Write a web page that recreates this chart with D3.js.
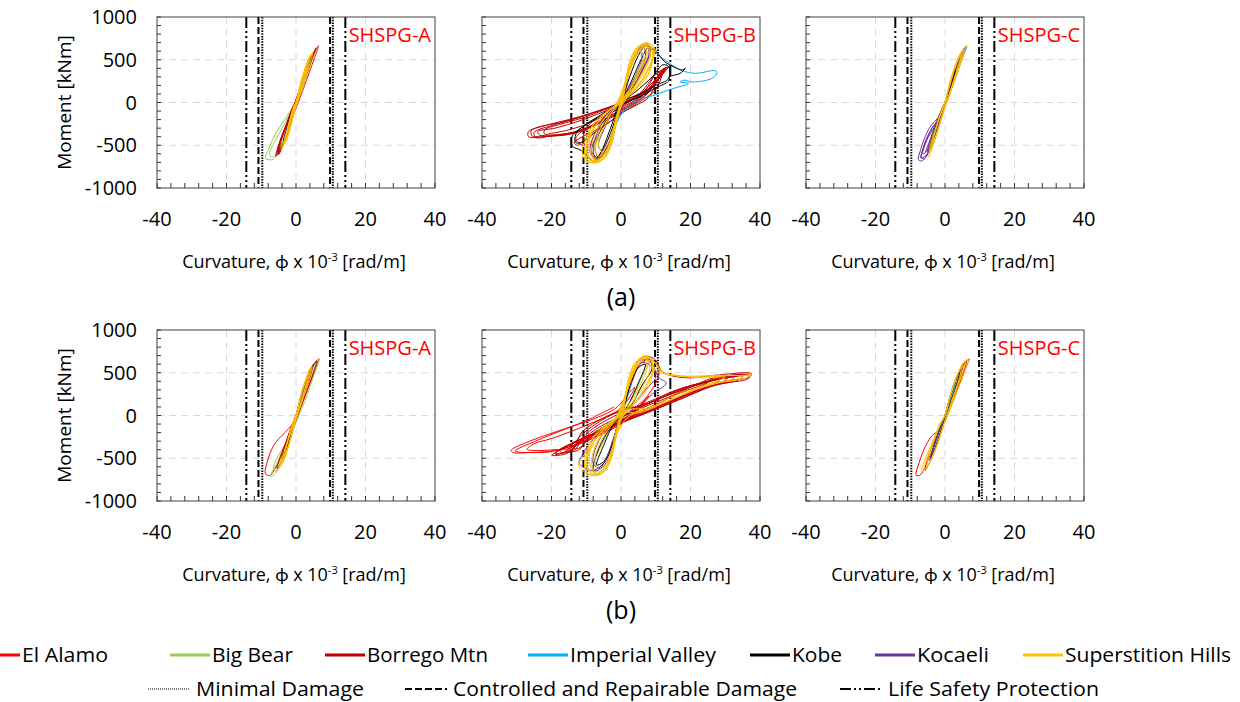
<!DOCTYPE html>
<html><head><meta charset="utf-8">
<script src="https://cdn.jsdelivr.net/npm/d3@7"></script>
<style>
html,body{margin:0;padding:0;background:#fff;}
text{font-family:"Open Sans",Lato,sans-serif;}
</style></head>
<body><svg id="chart" width="1240" height="702"></svg>
<script>
// ---------- categories / labels ----------
const seriesNames = ["El Alamo","Big Bear","Borrego Mtn","Imperial Valley","Kobe","Kocaeli","Superstition Hills"];
const seriesColors = ["#ff0000","#92d050","#c00000","#00b0f0","#000000","#7030a0","#ffc000"];
const panelNames = ["SHSPG-A","SHSPG-B","SHSPG-C"];
const rowLabels = ["(a)","(b)"];
const xTicks = [-40,-20,0,20,40];
const yTicks = [-1000,-500,0,500,1000];
const limitNames = ["Minimal Damage","Controlled and Repairable Damage","Life Safety Protection"];
const limitCurvatures = [[-9.7,10.6],[-10.8,9.8],[-14.3,14.2]];

// ---------- data: [curvature x1e-3 rad/m, moment kNm], series in seriesNames order ----------
// Row (a), SHSPG-A
const a_A = [
 [[0,0],[1.2,150],[2.8,330],[4.5,520],[6.5,665],[6,600],[4.6,440],[3,260],[1.2,60],[-0.8,-150],[-2.5,-330],[-4.2,-500],[-5.6,-610],[-4.5,-470],[-2.8,-280],[-1,-90],[0,0]],
 [[0,0],[1.5,180],[3,380],[4.5,540],[6.3,655],[5.2,560],[3.5,360],[2,170],[0,-40],[-1.2,-200],[-2.5,-340],[-4,-480],[-5.5,-600],[-6.5,-665],[-8.8,-655],[-8,-560],[-6.8,-440],[-5,-300],[-3.2,-200],[-1.5,-90],[0,0],[-1.8,-230],[-3.5,-400],[-5.2,-560],[-6.8,-640],[-7.6,-600],[-6,-450],[-4,-300],[-2,-150],[0,0]],
 [[0,0],[-1.5,-220],[-3,-400],[-4.5,-560],[-5.8,-630],[-5.2,-520],[-3.8,-380],[-2.2,-200],[-0.5,-20],[1.5,210],[3.2,420],[5,580],[5.8,640],[4.5,500],[2.8,300],[1,80],[-1,-180],[-2.8,-380],[-4.2,-540],[-5,-610],[-4.8,-480],[-3.2,-300],[-1.8,-170],[0,0],[-2,-300],[-3.6,-470],[-4.8,-590],[-4.2,-420],[-2.6,-250],[0,0],[-2.4,-360],[-4,-520],[-5.4,-600],[-4.6,-460],[-3,-280],[-1,-60],[0,0]],
 [[0,0],[1.5,200],[3,380],[4,470],[3.2,360],[1.6,170],[0,-20],[-1.5,-220],[-3,-390],[-2.2,-260],[-0.8,-90],[0,0]],
 [[0,0],[1.8,250],[3.4,430],[4.5,540],[3.8,430],[2.6,290],[1,100],[-1,-150],[-2.6,-330],[-3.6,-450],[-2.8,-320],[-1.2,-130],[0,0]],
 [[0,0],[1.5,190],[3,370],[4,480],[3,330],[1.2,120],[-1,-130],[-2.5,-320],[-3.5,-430],[-2.4,-270],[-1,-100],[0,0]],
 [[0,0],[1.2,180],[2.5,360],[3.8,520],[4.8,590],[4.2,480],[3,320],[1.6,140],[0.2,-20],[-1.2,-220],[-2.5,-400],[-3.8,-520],[-4.2,-560],[-3.2,-420],[-2,-250],[-0.8,-80],[0,0],[1.6,260],[3,450],[4.2,560],[3.5,420],[2.2,240],[0.8,60],[-0.8,-160],[-2.2,-360],[-3.4,-480],[-2.6,-340],[-1.4,-170],[0,0],[1,130],[2.2,300],[3.2,420],[2.6,300],[1.3,130],[-0.4,-60],[-1.8,-260],[-3,-420],[-2,-240],[-0.6,-40],[0,0],[1.4,240],[2.8,420],[3.8,520],[3,380],[1.8,200],[0.3,20],[-1.5,-280],[-2.8,-450],[-3.6,-500],[-2.4,-300],[-1,-120],[0,0]]
];
// Row (a), SHSPG-B
const a_B = [
 [[0,0],[1.8,300],[3.5,520],[5.5,650],[7.5,660],[8.5,560],[6.5,400],[4,220],[1.5,60],[-1,-150],[-3,-420],[-5.5,-620],[-7.5,-660],[-9,-560],[-7,-320],[-4,-120],[-1.5,-30],[0,0],[2.5,380],[4.5,580],[6.5,640],[7,520],[4.5,300],[1.5,80],[-1.5,-230],[-4,-520],[-6.5,-640],[-7.5,-520],[-4.5,-220],[-1,-20],[0,0]],
 [[0,0],[2,330],[4,580],[6.5,690],[8,650],[6,450],[3,180],[0,0],[-2,-320],[-4,-560],[-7,-680],[-8,-600],[-5,-300],[-2,-80],[0,0]],
 [[13.7,420],[12,330],[10,220],[8,60],[4,-40],[0,-120],[-5,-220],[-11,-330],[-16,-380],[-21,-395],[-26.6,-400],[-26.6,-340],[-22,-270],[-17.9,-240],[-11.2,-163],[-6,-90],[-1.6,-27],[3,60],[8,166],[11,290],[13.7,420],
  [12.5,390],[10.5,260],[7,80],[2,-60],[-4,-190],[-10,-310],[-15,-370],[-20,-390],[-24.5,-410],[-25,-350],[-20,-270],[-14,-200],[-8,-120],[-2,-40],[4,60],[9,180],[12.5,390],
  [11.5,360],[9,210],[5,40],[0,-80],[-6,-230],[-11,-330],[-13,-420],[-12,-480],[-10.5,-500],[-11,-420],[-9,-250],[-4,-120],[1,-10],[6,110],[11.5,360],
  [10,330],[7,150],[2,0],[-4,-150],[-9,-280],[-14,-350],[-18,-380],[-23,-390],[-24,-340],[-19,-300],[-13,-230],[-7,-140],[-1,-40],[5,90],[10,330],
  [13,410],[11,300],[8.5,150],[4,0],[-1,-110],[-7,-240],[-12,-330],[-17,-370],[-22,-385],[-25.5,-395],[-25.8,-330],[-21,-260],[-15,-200],[-9,-130],[-3,-50],[3,40],[8,140],[13,410],
  [12,380],[9.5,200],[5,50],[0,-60],[-6,-180],[-11,-270],[-16,-330],[-20,-360],[-22,-370],[-22,-320],[-17,-250],[-11,-180],[-5,-90],[1,0],[7,110],[12,380],
  [10,150],[5,0],[0,-130],[-4,-250],[-8,-340],[-12,-420],[-13.5,-470],[-12.5,-500],[-11,-450],[-8,-360],[-4,-250],[0,-130]],
 [[7.5,680],[9.9,590],[11.8,520],[14.7,438],[17.6,372],[21.4,341],[27.1,372],[27.6,349],[26.2,283],[20.5,240],[18.2,262],[17,240],[19.5,225],[13.7,147],[9.9,89],[5.1,31],[2.2,-47],[0.3,-124],[-1.6,-279],[-2.6,-473],[-4,-580],[-6,-640]],
 [[0,0],[3,250],[6,520],[8,650],[10,600],[12.5,480],[15,420],[17.6,380],[18.5,400],[17,340],[14,300],[13.7,250],[10,170],[5,60],[0,-30],[-5,-140],[-10,-260],[-14,-390],[-14,-510],[-11.5,-560],[-9,-650],[-8,-690],[-6,-600],[-3,-300],[0,0],
  [5,90],[10,200],[13.7,280],[13.7,420],[12,440],[9,300],[4,120],[0,10],[-6,-150],[-11,-280],[-13,-370],[-13,-470],[-10,-440],[-6,-270],[-2,-90],[0,0],
  [2.5,300],[5,550],[7,660],[8.5,600],[6,380],[3,150],[0,0],[-2.5,-300],[-5,-540],[-7,-640],[-8.5,-560],[-5.5,-300],[-2,-70],[0,0]],
 [[0,0],[2,320],[4,560],[6.5,680],[8.5,640],[7,450],[4.5,240],[2,80],[0,0],[-1.8,-260],[-3.5,-500],[-6,-650],[-8,-640],[-8.5,-480],[-6,-250],[-3,-90],[0,0],[1.5,250],[3.5,480],[5.5,600],[6,520],[4,300],[1,60],[-1.5,-200],[-3,-420],[-5,-560],[-6.5,-520],[-4.5,-280],[-1.5,-60],[0,0],[2.5,400],[5,620],[7.5,690],[8,560],[5.5,330],[2,100],[-2,-300],[-4.5,-580],[-7,-670],[-8,-540],[-5,-200],[-1,-10]],
 [[0.3,30],[2.2,340],[4.6,612],[7,698],[8.5,680],[9.9,612],[8.9,496],[8,340],[5.1,225],[2.5,90],[0.3,30],[-1.6,-279],[-3.5,-550],[-6,-690],[-8.3,-705],[-10.5,-660],[-11.2,-560],[-10,-420],[-8.3,-280],[-5.5,-160],[-3.5,-85],[0.3,30],
  [1.5,260],[3.5,500],[5.8,660],[8,670],[9.5,560],[7.5,380],[4.5,170],[1.5,40],[-1,-120],[-2.8,-420],[-5,-620],[-7.5,-690],[-9.5,-620],[-9.5,-450],[-7,-260],[-4,-110],[-1,-10],[1.5,260],
  [3,430],[5,600],[7,660],[8.5,580],[7,420],[4,200],[1,50],[-1.2,-200],[-3,-470],[-5.5,-640],[-7.5,-660],[-8.5,-540],[-7,-330],[-4,-150],[-1,-20],[1,200],
  [2.5,380],[4.5,560],[6.5,640],[7.5,560],[6,400],[3.5,200],[0.8,60],[-0.8,-140],[-2.5,-400],[-4.5,-580],[-6.5,-630],[-7.5,-520],[-6,-320],[-3,-130],[-0.5,0],
  [2,300],[4,520],[5.5,600],[6.5,540],[5,380],[2.5,150],[0,0],[-2,-280],[-4,-500],[-5.5,-580],[-6.5,-480],[-4.5,-260],[-2,-80],[0,0],
  [0.5,60],[1.8,300],[3.8,560],[6,680],[8,690],[9.5,640],[9.2,520],[8.4,420],[6.5,290],[3.5,130],[0.5,40],[-1.2,-200],[-2.5,-450],[-4.5,-640],[-7,-700],[-9.5,-690],[-10.5,-600],[-9.5,-430],[-8,-300],[-5.5,-180],[-2.5,-60],[0.5,60],
  [1,180],[2.8,450],[5,640],[7.5,690],[9.2,600],[8.6,450],[7.2,330],[4.5,180],[1.5,60],[-0.5,-80],[-2,-330],[-3.8,-580],[-6,-680],[-8.5,-700],[-10,-640],[-9,-380],[-6.5,-230],[-3.5,-100],[-1,0],[1,180],
  [2,400],[3.6,590],[5.5,670],[7.8,650],[8.2,520],[6.8,380],[5.5,280],[3,140],[0.5,30],[-1.4,-250],[-3,-520],[-5,-660],[-7.5,-680],[-9,-560],[-8.8,-400],[-7.5,-330],[-5,-200],[-2,-60],[0,10],
  [1.2,240],[2.6,480],[4.2,620],[6.5,670],[8.8,620],[9,470],[7.5,300],[5.8,220],[3,100],[1,30],[-0.8,-150],[-2.2,-380],[-4,-600],[-6.5,-690],[-9,-670],[-10,-520],[-9.2,-350],[-7,-200],[-4.5,-120],[-1.5,-20],[1.2,240]]
];
// Row (a), SHSPG-C
const a_C = [
 [[0,0],[2,250],[4,480],[5.5,600],[4.5,470],[2.5,230],[0.5,20],[-1.5,-220],[-3.5,-430],[-5,-560],[-4,-400],[-2,-180],[0,0]],
 [[0,0],[2,260],[4,470],[5,560],[4,420],[2,180],[0,0],[-2,-250],[-4,-460],[-3,-300],[-1,-80],[0,0]],
 [[0,0],[1.8,240],[3.6,450],[4.8,560],[3.8,420],[2,200],[0,0],[-1.8,-240],[-3.6,-450],[-4.6,-540],[-3.4,-360],[-1.5,-140],[0,0]],
 [[0,0],[2,280],[4,500],[5.8,640],[6.3,660],[5.2,540],[3.5,350],[1.5,130],[0,0],[-1.8,-240],[-3.5,-450],[-5,-580],[-4,-420],[-2,-200],[0,0]],
 [[0,0],[1.5,200],[3,380],[2.2,250],[0.8,60],[-1,-150],[-2.5,-330],[-4,-470],[-3,-320],[-1.2,-120],[0,0]],
 [[0,0],[1.5,200],[3,400],[4.5,560],[6,650],[5,520],[3.5,360],[2,180],[0,-50],[-1.2,-150],[-3,-220],[-4.5,-300],[-6,-430],[-7,-550],[-7.6,-674],[-6.5,-680],[-4.5,-560],[-3,-430],[-1.8,-280],[-0.5,-100],[0,0],[-2,-200],[-3.8,-300],[-5.5,-440],[-6.8,-600],[-7,-650],[-5.5,-620],[-4,-500],[-2.6,-380],[-1.4,-220],[0,0],[-2.5,-250],[-4.5,-380],[-6,-520],[-6.4,-600],[-5,-560],[-3.6,-450],[-2.2,-300],[-1,-120],[0,0],[-3,-330],[-4.5,-460],[-5.6,-580],[-4.6,-520],[-3.2,-380],[-1.6,-180],[0,0],[2,300],[3.5,460],[5,590],[4,440],[2.5,260],[0.5,20],[0,0],[-1.6,-180],[-3.4,-280],[-5,-400],[-6.2,-540],[-6.8,-640],[-6,-660],[-4.2,-540],[-2.8,-400],[-1.2,-200],[0,0]],
 [[0,0],[1.2,180],[2.5,360],[4,540],[5.5,640],[6.2,670],[5.5,580],[4.2,430],[2.8,260],[1.2,80],[-0.3,-80],[-1.8,-280],[-3,-440],[-4,-560],[-4.6,-640],[-4.2,-500],[-3,-340],[-1.6,-170],[0,0],[1.5,240],[3,420],[4.5,570],[5.5,620],[4.8,500],[3.2,320],[1.5,120],[-0.5,-120],[-2,-320],[-3.3,-480],[-4.2,-580],[-3.5,-420],[-2.2,-250],[-0.8,-70],[0,0],[1,150],[2.2,330],[3.5,480],[4.6,560],[3.8,420],[2.4,240],[0.8,40],[-1,-180],[-2.5,-380],[-3.6,-500],[-2.8,-340],[-1.4,-150],[0,0],[1.8,300],[3.4,480],[5,600],[4.2,460],[2.6,270],[0.6,20]]
];
// Row (b), SHSPG-A
const b_A = [
 [[0,0],[1.5,200],[3,400],[4.5,560],[6.5,660],[5.5,540],[4,380],[2,170],[0,-30],[-2,-150],[-4,-232],[-6.4,-349],[-8.3,-545],[-8.8,-682],[-7.5,-700],[-6,-620],[-4.5,-500],[-3,-360],[-1.5,-180],[0,0]],
 [[0,0],[1.5,200],[3,400],[4.5,540],[6,620],[6.8,662],[6.3,600],[5.2,480],[4,330],[2.5,160],[1,20],[-1,-180],[-2.5,-320],[-4,-430],[-5.5,-560],[-7.4,-709],[-6.2,-690],[-5,-590],[-3.5,-450],[-2,-300],[-0.5,-120],[0,0],[-2,-260],[-4,-400],[-5.5,-500],[-6.5,-620],[-5.5,-650],[-4,-520],[-2.5,-360],[-1,-150],[0,0],[2,300],[4,500],[5.8,620],[5,520],[3,320],[1,80],[0,0]],
 [[0,0],[1.5,220],[3,430],[4.5,560],[6,640],[5.2,520],[3.8,360],[2.2,180],[0.5,0],[-1.5,-240],[-3,-420],[-4.5,-560],[-5.5,-620],[-4.5,-480],[-3,-320],[-1.5,-150],[0,0],[2,320],[3.8,500],[5,600],[4.2,470],[2.8,300],[1,80],[-1,-160],[-2.8,-380],[-4,-500],[-3.2,-360],[-1.5,-160],[0,0]],
 [[0,0],[1.5,200],[3,390],[2.2,260],[0.6,60],[-1.4,-200],[-2.8,-370],[-2,-240],[-0.6,-60],[0,0]],
 [[0,0],[1.5,230],[3,420],[4,540],[3.5,420],[2.2,250],[0.8,60],[-1,-160],[-2.5,-340],[-3.5,-450],[-2.5,-300],[-1,-120],[0,0]],
 [[0,0],[1.4,200],[2.8,380],[3.6,470],[2.8,330],[1.2,130],[-1,-150],[-2.4,-330],[-3.2,-420],[-2.2,-260],[-0.8,-80],[0,0]],
 [[0,0],[1.2,190],[2.5,370],[3.8,520],[4.6,580],[4,460],[2.8,300],[1.4,120],[0,-40],[-1.3,-240],[-2.6,-420],[-3.8,-560],[-5,-620],[-3.6,-450],[-2.3,-270],[-1,-90],[0,0],[1.6,260],[3,440],[4.2,560],[3.4,410],[2,220],[0.6,40],[-0.9,-180],[-2.3,-380],[-3.4,-500],[-2.6,-340],[-1.3,-160],[0,0],[1.2,200],[2.6,400],[3.6,500],[2.8,350],[1.4,150],[-0.4,-80],[-1.8,-300],[-3,-460],[-4.2,-560],[-3,-380],[-1.6,-200],[0,0]]
];
// Row (b), SHSPG-B
const b_B = [
 [[0,0],[2,250],[4,480],[6,640],[8,660],[9.9,620],[11,520],[10,380],[7,200],[3,60],[0.3,-20],[-1.6,-114],[-6.4,-230],[-11.2,-320],[-16,-380],[-20.8,-427],[-26,-432],[-30.9,-435],[-31.6,-408],[-25.6,-290],[-16,-153],[-6.4,-16],[-1.6,82],[0.3,161],[2,250],
  [4,330],[1,130],[-1.6,40],[-8,-80],[-14,-180],[-20,-270],[-25,-330],[-27,-395],[-24,-410],[-19,-400],[-15,-388],[-13,-350],[-9,-270],[-4,-160],[0,-60],[4,60],[8,230],
  [6,120],[0,-90],[-6,-200],[-12,-300],[-17,-380],[-19,-440],[-16,-430],[-12,-330],[-7,-200],[-2,-60],[3,100],
  [5,60],[0,-100],[-6,-230],[-12,-330],[-18,-400],[-22,-425],[-29,-430],[-30.5,-415],[-24,-290],[-18,-190],[-10,-60],[-2,100]],
 [[0,0],[2,330],[4,580],[6.5,680],[8,640],[6,450],[3,180],[0,0],[-2,-320],[-4,-560],[-7,-690],[-8,-600],[-5,-300],[-2,-80],[0,0]],
 [[36.7,482],[36.7,435],[27.1,357],[17.6,200],[8,43],[-1.6,-114],[-11.2,-271],[-18.9,-435],[-19.9,-466],[-17,-460],[-15,-430],[-13,-340],[-11.2,-192],[-1.6,35],[8,141],[17.6,318],[27.1,415],[36.7,482],
  [33,470],[32,420],[24,320],[15,170],[6,20],[-3,-130],[-10,-250],[-15,-350],[-17.5,-420],[-16.5,-440],[-14,-400],[-12,-300],[-8,-150],[0,30],[8,160],[16,300],[25,400],[33,470],
  [29,450],[28,400],[20,280],[12,140],[4,10],[-4,-140],[-10,-260],[-13,-350],[-14,-420],[-12,-400],[-10,-300],[-5,-140],[2,20],[10,180],[20,330],[29,450],
  [35,475],[34.5,430],[26,340],[17,190],[8,40],[-1,-100],[-9,-230],[-15,-340],[-18.5,-430],[-18.8,-455],[-16,-420],[-13.5,-320],[-10,-180],[-2,20],[7,130],[16,290],[25,400],[35,475],
  [31,460],[30,410],[22,300],[13,150],[4,0],[-5,-160],[-11,-280],[-14.5,-380],[-15.5,-430],[-13.5,-410],[-11,-280],[-6,-130],[1,10],[9,160],[19,320],[31,460],
  [26,430],[25,390],[17,260],[9,110],[1,-30],[-7,-190],[-12,-310],[-13.5,-390],[-11.5,-370],[-9,-240],[-3,-90],[5,70],[14,220],[26,430],
  [22,300],[14,160],[6,20],[-1,-60],[1,200],[3,450],[5,640],[6.5,690],[8,690],[9.9,651],[11.8,514],[13.7,474],[19.5,440],[27,470],[37.5,490],[37,450],[30,400],[22,300]],
 [[0,0],[1.5,200],[3,380],[2,240],[0.5,40],[-1.5,-220],[-3,-400],[-2,-250],[-0.5,-50],[0,0]],
 [[0,0],[2,300],[4,520],[6,620],[8,660],[9,560],[6,350],[3,120],[0,0],[-2,-280],[-4,-500],[-6,-600],[-8,-640],[-7,-450],[-4,-200],[-1,-40],[0,0],[3,400],[5,560],[7,600],[5,380],[2,120],[0,0],[-3,-380],[-5,-540],[-7,-580],[-5,-350],[-2,-90],[0,0]],
 [[0,0],[2,320],[4,560],[6,660],[8,640],[9.5,560],[11,440],[13,380],[9,250],[5,100],[1,0],[-2,-250],[-4,-480],[-6.5,-640],[-9,-640],[-12,-560],[-11,-450],[-8,-280],[-4,-100],[0,0],[1.5,250],[3.5,480],[6,620],[8.5,580],[10,450],[7,300],[3,100],[0,0],[-1.8,-300],[-3.8,-520],[-6,-620],[-8,-560],[-7,-350],[-3.5,-120],[0,0]],
 [[0.3,30],[2.2,340],[4.6,612],[7,690],[8.5,670],[9.9,612],[11.8,520],[14,480],[20,460],[28,470],[36,470],[37.5,480],[36,440],[28,380],[20,280],[12,140],[5,30],[0.3,30],[-1.6,-279],[-3.5,-550],[-6,-690],[-8.3,-702],[-10.5,-660],[-12.2,-585],[-10,-420],[-8.3,-280],[-5.5,-160],[-3.5,-85],[0.3,30],
  [1.5,260],[3.5,500],[5.8,660],[8,670],[9.5,560],[7.5,380],[4.5,170],[1.5,40],[-1,-120],[-2.8,-420],[-5,-620],[-7.5,-690],[-9.5,-620],[-9.5,-450],[-7,-260],[-4,-110],[-1,-10],[1.5,260],
  [3,430],[5,600],[7,660],[8.5,580],[10,520],[16,470],[24,440],[30,450],[26,380],[16,240],[8,90],[1,50],[-1.2,-200],[-3,-470],[-5.5,-640],[-7.5,-660],[-8.5,-540],[-7,-330],[-4,-150],[-1,-20],[1,200],
  [2.5,380],[4.5,560],[6.5,640],[7.5,560],[6,400],[3.5,200],[0.8,60],[-0.8,-140],[-2.5,-400],[-4.5,-580],[-6.5,-630],[-7.5,-520],[-6,-320],[-3,-130],[-0.5,0],
  [1.8,300],[3.8,560],[6,680],[8,690],[9.5,630],[12,500],[18,455],[26,455],[34,465],[35,445],[27,380],[18,250],[10,110],[2,-20],[-1.2,-220],[-2.5,-460],[-4.5,-640],[-7,-700],[-9.5,-680],[-10.5,-580],[-9.5,-430],[-7.5,-290],[-5,-170],[-2,-50],[0.5,60],
  [1,180],[2.8,450],[5,640],[7.5,690],[9.2,600],[8.6,450],[7.2,330],[4.5,180],[1.5,60],[-0.5,-80],[-2,-330],[-3.8,-580],[-6,-680],[-8.5,-700],[-10,-640],[-9,-380],[-6.5,-230],[-3.5,-100],[-1,0],[1,180],
  [2,400],[3.6,590],[5.5,670],[7.8,650],[8.2,520],[6.8,380],[5.5,280],[3,140],[0.5,30],[-1.4,-250],[-3,-520],[-5,-660],[-7.5,-680],[-9,-560],[-8.8,-400],[-7.5,-330],[-5,-200],[-2,-60],[0,10],
  [1.2,240],[2.6,480],[4.2,620],[6.5,670],[8.8,620],[9,470],[7.5,300],[5.8,220],[3,100],[1,30],[-0.8,-150],[-2.2,-380],[-4,-600],[-6.5,-690],[-9,-670],[-10,-520],[-9.2,-350],[-7,-200],[-4.5,-120],[-1.5,-20],[1.2,240]]
];
// Row (b), SHSPG-C
const b_C = [
 [[0,0],[1.5,210],[3,400],[4.5,540],[6,630],[7,662],[6.2,580],[5,450],[3.5,300],[2,140],[0,-50],[-2,-180],[-3.6,-232],[-5.5,-349],[-7.4,-545],[-8.3,-702],[-7,-690],[-5.5,-580],[-4,-440],[-2.5,-300],[-1,-130],[0,0]],
 [[0,0],[1.6,220],[3.2,410],[4.2,520],[3.4,380],[1.8,190],[0,0],[-1.8,-230],[-3.4,-420],[-4.4,-520],[-3.2,-350],[-1.4,-140],[0,0]],
 [[0,0],[1.8,260],[3.5,460],[5,580],[6.2,640],[5.4,520],[4,360],[2.4,180],[0.5,-10],[-1.5,-240],[-3.2,-430],[-4.8,-580],[-5.8,-640],[-5,-500],[-3.5,-330],[-1.8,-160],[0,0],[2.2,330],[4,510],[5.2,600],[4.5,470],[3,300],[1,80],[-1.2,-200],[-3,-400],[-4.2,-520],[-3.4,-370],[-1.6,-170],[0,0]],
 [[0,0],[1.5,200],[3,380],[2.2,250],[0.6,50],[-1.5,-220],[-3.2,-420],[-4.4,-540],[-3.4,-380],[-1.5,-160],[0,0]],
 [[0,0],[1.8,260],[3.4,440],[4.4,540],[3.6,400],[2,200],[0.4,10],[-1.6,-240],[-3.2,-430],[-4,-500],[-3,-330],[-1.2,-120],[0,0]],
 [[0,0],[2,290],[3.8,480],[5.2,600],[4.4,470],[2.8,280],[1,70],[-1,-170],[-2.8,-380],[-4.2,-520],[-3.2,-360],[-1.4,-150],[0,0]],
 [[0,0],[1.3,200],[2.7,390],[4.2,540],[5.6,630],[6.8,655],[6,560],[4.6,400],[3,230],[1.4,60],[-0.4,-120],[-2,-320],[-3.6,-480],[-5.2,-600],[-6.8,-660],[-6,-540],[-4.6,-400],[-3,-250],[-1.4,-90],[0,0],[1.6,250],[3.2,440],[4.8,580],[6,640],[5.2,520],[3.8,360],[2.2,170],[0.4,-20],[-1.4,-240],[-3,-420],[-4.6,-560],[-6,-630],[-5,-480],[-3.6,-330],[-2,-160],[0,0],[1,150],[2.4,340],[3.8,490],[5,590],[4.2,440],[2.6,250],[1,60],[-0.8,-160],[-2.4,-360],[-4,-520],[-5.2,-590],[-4.4,-430],[-2.8,-260],[-1.2,-90],[0,0]]
];
const panelData = [[a_A,a_B,a_C],[b_A,b_B,b_C]];

// ---------- layout ----------
const svg = d3.select("#chart");
const colLeft = [157, 482, 806];
const rowTop = [17, 330];
const pw = 278, ph = 171;
const limitDash = ["1.5,1.2","7,3","11,3,2,3,2,3"];

rowTop.forEach((top, r) => {
  colLeft.forEach((left, c) => {
    const x = d3.scaleLinear().domain([-40,40]).range([left, left+pw]);
    const y = d3.scaleLinear().domain([-1000,1000]).range([top+ph, top]);
    const g = svg.append("g");
    const clipId = `clip-${r}-${c}`;
    svg.append("clipPath").attr("id", clipId).append("rect")
      .attr("x", left).attr("y", top).attr("width", pw).attr("height", ph);

    g.selectAll(".gx").data([-20,0,20]).join("line")
      .attr("x1", d=>x(d)).attr("x2", d=>x(d)).attr("y1", top).attr("y2", top+ph)
      .attr("stroke", "#d9d9d9").attr("stroke-width", 1).attr("stroke-dasharray", "7,5");
    g.selectAll(".gy").data([-500,0,500]).join("line")
      .attr("y1", d=>y(d)).attr("y2", d=>y(d)).attr("x1", left).attr("x2", left+pw)
      .attr("stroke", "#d9d9d9").attr("stroke-width", 1).attr("stroke-dasharray", "7,5");

    limitCurvatures.forEach((pos, k) => {
      g.selectAll(null).data(pos).join("line")
        .attr("x1", d=>x(d)).attr("x2", d=>x(d)).attr("y1", top).attr("y2", top+ph)
        .attr("stroke", "#000").attr("stroke-width", 2)
        .attr("stroke-dasharray", limitDash[k]);
    });

    const line = d3.line().x(d=>x(d[0])).y(d=>y(d[1])).curve(d3.curveCatmullRom.alpha(0.5));
    const cg = g.append("g").attr("clip-path", `url(#${clipId})`);
    panelData[r][c].forEach((pts, s) => {
      cg.append("path").attr("d", line(pts)).attr("fill", "none")
        .attr("stroke", seriesColors[s]).attr("stroke-width", 1).attr("stroke-linejoin","round");
    });

    g.selectAll(null).data(d3.range(-40, 40.01, 4)).join("line")
      .attr("x1", d=>x(d)).attr("x2", d=>x(d)).attr("y1", top+ph).attr("y2", top+ph-5)
      .attr("stroke", "#333").attr("stroke-width", 1);
    g.selectAll(null).data(d3.range(-1000, 1000.1, 100)).join("line")
      .attr("x1", left).attr("x2", left+4).attr("y1", d=>y(d)).attr("y2", d=>y(d))
      .attr("stroke", "#333").attr("stroke-width", 1);

    g.append("rect").attr("x", left).attr("y", top).attr("width", pw).attr("height", ph)
      .attr("fill", "none").attr("stroke", "#404040").attr("stroke-width", 1);

    g.selectAll(null).data(xTicks).join("text")
      .attr("x", d=>x(d)).attr("y", top+ph+38).attr("text-anchor","middle")
      .attr("font-size", 20).attr("fill","#000").text(d=>d);
    if (c === 0) {
      g.selectAll(null).data(yTicks).join("text")
        .attr("x", left-20).attr("y", d=>y(d)+7).attr("text-anchor","end")
        .attr("font-size", 20).attr("fill","#000").text(d=>d);
      g.append("text").attr("transform", `translate(71,${top+ph/2}) rotate(-90)`)
        .attr("text-anchor","middle").attr("font-size", 19).text("Moment [kNm]");
    }
    const xt = g.append("text").attr("x", left+pw/2-2).attr("y", top+ph+80)
      .attr("text-anchor","middle").attr("font-size", 18);
    xt.append("tspan").text("Curvature, ϕ x 10");
    xt.append("tspan").attr("dy", -7).attr("font-size", 11).text("-3");
    xt.append("tspan").attr("dy", 7).text(" [rad/m]");

    g.append("text").attr("x", left+pw-4).attr("y", top+25).attr("text-anchor","end")
      .attr("font-size", 20).attr("fill","#ff0000").text(panelNames[c]);
  });
  svg.append("text").attr("x", 621).attr("y", rowTop[r]+ph+118).attr("text-anchor","middle")
    .attr("font-size", 25).text(rowLabels[r]);
});

// ---------- legend ----------
const leg1X = [-20, 170, 325, 528, 750, 875, 1023];
const leg1W = [86, 81, 121, 146, 50, 72, 166];
seriesNames.forEach((n, i) => {
  svg.append("line").attr("x1", leg1X[i]).attr("x2", leg1X[i]+40).attr("y1", 655).attr("y2", 655)
    .attr("stroke", seriesColors[i]).attr("stroke-width", 3);
  svg.append("text").attr("x", leg1X[i]+42).attr("y", 662).attr("font-size", 20)
    .attr("textLength", leg1W[i]).attr("lengthAdjust","spacingAndGlyphs").text(n);
});
const leg2X = [148, 405, 840];
const leg2W = [168, 344, 211];
limitNames.forEach((n, i) => {
  svg.append("line").attr("x1", leg2X[i]).attr("x2", leg2X[i]+42).attr("y1", 689).attr("y2", 689)
    .attr("stroke", i===0 ? "#555" : "#000").attr("stroke-width", i===0 ? 1.5 : 2)
    .attr("stroke-dasharray", i===0 ? "1,1" : limitDash[i]);
  svg.append("text").attr("x", leg2X[i]+48).attr("y", 696).attr("font-size", 20)
    .attr("textLength", leg2W[i]).attr("lengthAdjust","spacingAndGlyphs").text(n);
});
</script></body></html>
